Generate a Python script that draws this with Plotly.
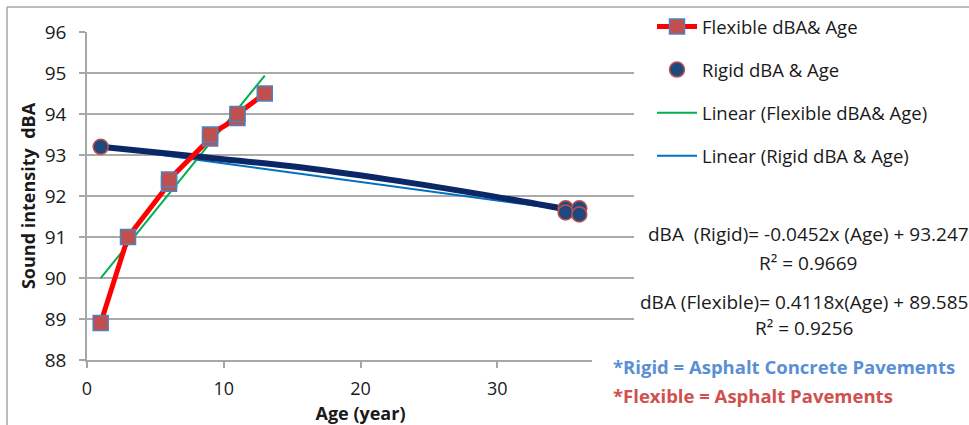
import plotly.graph_objects as go

# ---- data ----
flex_age = [1, 3, 6, 6, 9, 9, 11, 11, 13]
flex_dba = [88.9, 91.0, 92.3, 92.4, 93.4, 93.5, 93.9, 94.0, 94.5]

rigid_age = [1, 35, 35, 36, 36]
rigid_dba = [93.2, 91.7, 91.6, 91.7, 91.55]

# thick smoothed curve for the rigid series
rigid_curve_age = [1, 7.5, 14.8, 22.1, 29.4, 36]
rigid_curve_dba = [93.2, 92.98, 92.73, 92.40, 92.01, 91.62]

# linear trendline coefficients (from the chart equations)
flex_slope, flex_int = 0.4118, 89.585
rigid_slope, rigid_int = -0.0452, 93.247
flex_fit_age = [1, 13]
rigid_fit_age = [1, 36]

x_ticks = [0, 10, 20, 30]
y_ticks = [88, 89, 90, 91, 92, 93, 94, 95, 96]

FONT = "Open Sans"
TXT = "#1a1a1a"
W, H = 969, 425
L, R, T, B = 87, 634, 32, 360  # plot area in pixels


def px(xp):
    return (xp - L) / (R - L)


def py(yp):
    return (B - yp) / (B - T)


fig = go.Figure()

fig.add_trace(go.Scatter(
    x=rigid_fit_age, y=[rigid_slope * a + rigid_int for a in rigid_fit_age],
    mode="lines", name="Linear (Rigid dBA & Age)",
    line=dict(color="#0070C0", width=2),
    legendgroup="d", legendrank=4))

fig.add_trace(go.Scatter(
    x=flex_fit_age, y=[flex_slope * a + flex_int for a in flex_fit_age],
    mode="lines", name="Linear (Flexible dBA& Age)",
    line=dict(color="#00B050", width=2),
    legendgroup="c", legendrank=3))

fig.add_trace(go.Scatter(
    x=rigid_curve_age, y=rigid_curve_dba, mode="lines", showlegend=False,
    line=dict(color="#0B2766", width=6, shape="spline", smoothing=1.0)))

fig.add_trace(go.Scatter(
    x=flex_age, y=flex_dba, mode="lines+markers", name="Flexible dBA& Age",
    line=dict(color="#FF0000", width=5),
    marker=dict(symbol="square", size=15, color="#C0504D",
                line=dict(color="#4F81BD", width=1.5)),
    legendgroup="a", legendrank=1))

fig.add_trace(go.Scatter(
    x=rigid_age, y=rigid_dba, mode="markers", name="Rigid dBA & Age",
    marker=dict(symbol="circle", size=15, color="#1F497D",
                line=dict(color="#C0504D", width=1.5)),
    legendgroup="b", legendrank=2))

annots = [
    dict(text="dBA  (Rigid)= -0.0452x (Age) + 93.247", x=px(808), y=py(234)),
    dict(text="R² = 0.9669", x=px(808), y=py(263)),
    dict(text="dBA (Flexible)= 0.4118x(Age) + 89.585", x=px(804), y=py(302)),
    dict(text="R² = 0.9256", x=px(804), y=py(328)),
]
annotations = []
for a in annots:
    annotations.append(dict(text=a["text"], x=a["x"], y=a["y"], xref="paper", yref="paper",
                            showarrow=False, xanchor="center", yanchor="middle",
                            font=dict(family=FONT, size=19, color=TXT)))
annotations.append(dict(text="<b>*Rigid = Asphalt Concrete Pavements</b>", x=px(611), y=py(366),
                        xref="paper", yref="paper", showarrow=False, xanchor="left", yanchor="middle",
                        font=dict(family=FONT, size=18.5, color="#5B8FD4")))
annotations.append(dict(text="<b>*Flexible = Asphalt Pavements</b>", x=px(611), y=py(395),
                        xref="paper", yref="paper", showarrow=False, xanchor="left", yanchor="middle",
                        font=dict(family=FONT, size=18.5, color="#D0504D")))

shapes = [
    # chart outer frame (top and left edges)
    dict(type="line", xref="paper", yref="paper", x0=px(7), x1=px(969), y0=py(7), y1=py(7),
         line=dict(color="#A6A6A6", width=1.5), layer="below"),
    dict(type="line", xref="paper", yref="paper", x0=px(7), x1=px(7), y0=py(7), y1=py(425),
         line=dict(color="#A6A6A6", width=1.5), layer="below"),
    # white text box covering the right end of the x axis
    dict(type="rect", xref="paper", yref="paper", x0=px(592), x1=px(645), y0=py(352), y1=py(372),
         fillcolor="white", line=dict(width=0), layer="above"),
]

fig.update_layout(
    width=W, height=H,
    margin=dict(l=L, r=W - R, t=T, b=H - B, pad=0, autoexpand=False),
    paper_bgcolor="white", plot_bgcolor="white",
    font=dict(family=FONT, color=TXT),
    showlegend=True,
    legend=dict(x=px(652), y=py(8), xanchor="left", yanchor="top",
                font=dict(family=FONT, size=18.5, color=TXT),
                tracegroupgap=16, itemwidth=40, bgcolor="rgba(0,0,0,0)",
                traceorder="grouped"),
    xaxis=dict(range=[0, 40], tickvals=x_ticks, showgrid=False, zeroline=False,
               showline=True, linecolor="#A6A6A6", linewidth=1.5,
               ticks="outside", ticklen=6, tickcolor="#A6A6A6", tickwidth=1.5,
               tickfont=dict(family=FONT, size=18, color=TXT),
               ticklabelstandoff=6,
               title=dict(text="<b>Age (year)</b>", font=dict(family=FONT, size=18, color=TXT),
                          standoff=9)),
    yaxis=dict(range=[88, 96], tickvals=y_ticks, showgrid=True, gridcolor="#ABABAB", gridwidth=1.5,
               zeroline=False, showline=True, linecolor="#A6A6A6", linewidth=1.5,
               ticks="outside", ticklen=6, tickcolor="#A6A6A6", tickwidth=1.5,
               tickfont=dict(family=FONT, size=19, color=TXT),
               ticklabelstandoff=9,
               title=dict(text="<b>Sound intensity  dBA</b>", font=dict(family=FONT, size=18, color=TXT),
                          standoff=4)),
    annotations=annotations,
    shapes=shapes,
)

fig.write_html("out.html", config={"displayModeBar": False},
               post_script="document.body.style.margin='0px';document.body.style.overflow='hidden';")
